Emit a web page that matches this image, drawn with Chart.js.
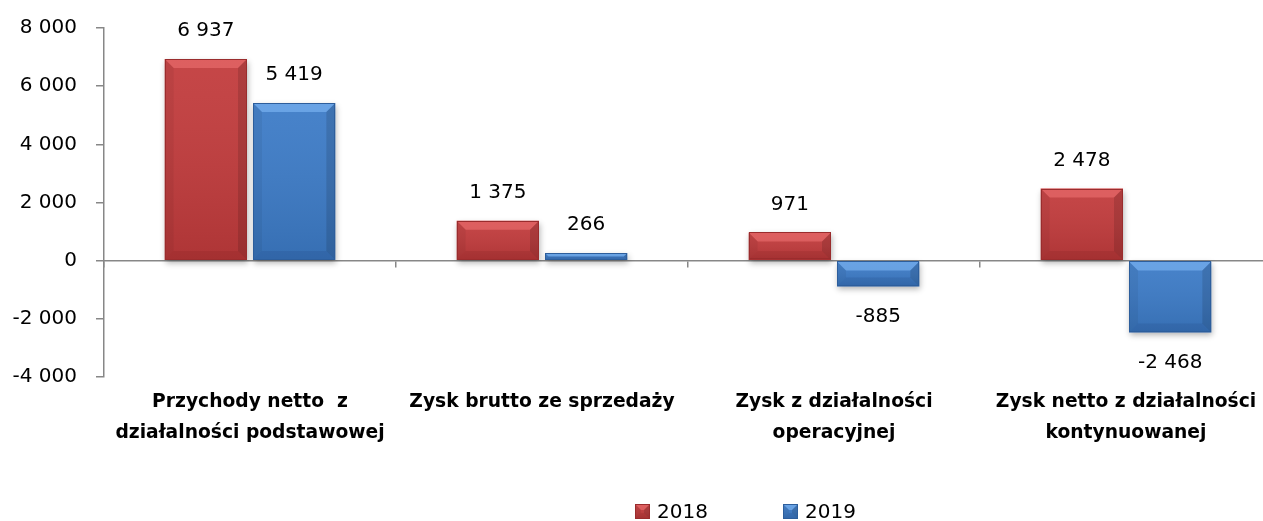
<!DOCTYPE html>
<html>
<head>
<meta charset="utf-8">
<script src="https://cdn.jsdelivr.net/npm/chart.js@4.4.1/dist/chart.umd.min.js"></script>
<style>
  html, body { margin: 0; padding: 0; background: #ffffff; overflow: hidden; }
  #wrap { width: 1263px; height: 521px; overflow: hidden; }
  canvas { display: block; }
</style>
</head>
<body>
<div id="wrap"><canvas id="c" width="1280" height="521"></canvas></div>
<script>
// ---- data ----
const categories = [
  ["Przychody netto  z", "działalności podstawowej"],
  ["Zysk brutto ze sprzedaży"],
  ["Zysk z działalności", "operacyjnej"],
  ["Zysk netto z działalności", "kontynuowanej"]
];
const seriesNames = ["2018", "2019"];
const values2018 = [6937, 1375, 971, 2478];
const values2019 = [5419, 266, -885, -2468];
const yMin = -4000;
const yMax = 8000;
const yStep = 2000;

// ---- styles ----
const FONT = "'DejaVu Sans', sans-serif";
const AXIS_COLOR = "#878787";
const colors = [
  { body: "#C23B3C", border: "#9A2C2D", light: "rgba(255,130,130,0.42)", dark: "rgba(80,10,10,0.10)" },
  { body: "#3C7BC7", border: "#2D5E9C", light: "rgba(140,195,255,0.50)", dark: "rgba(10,30,80,0.10)" }
];

function fmt(v) {
  const s = Math.abs(Math.round(v)).toString().replace(/\B(?=(\d{3})+(?!\d))/g, " ");
  return (v < 0 ? "-" : "") + s;
}

function drawBevelRect(ctx, l, t, r, b, col, bevel) {
  const h = b - t, w = r - l;
  const bv = Math.max(0, Math.min(bevel, h / 2, w / 2));
  const g = ctx.createLinearGradient(0, t, 0, b);
  g.addColorStop(0, "rgba(255,255,255,0.06)");
  g.addColorStop(1, "rgba(0,0,0,0.10)");
  ctx.fillStyle = g;
  ctx.fillRect(l, t, w, h);
  if (bv > 0.5) {
    ctx.fillStyle = col.light;
    ctx.beginPath();
    ctx.moveTo(l, t); ctx.lineTo(r, t); ctx.lineTo(r - bv, t + bv); ctx.lineTo(l + bv, t + bv); ctx.closePath();
    ctx.fill();
    ctx.fillStyle = col.dark;
    ctx.beginPath();
    ctx.moveTo(l, b); ctx.lineTo(r, b); ctx.lineTo(r - bv, b - bv); ctx.lineTo(l + bv, b - bv); ctx.closePath();
    ctx.fill();
    ctx.fillStyle = "rgba(0,0,0,0.05)";
    ctx.beginPath();
    ctx.moveTo(l, t); ctx.lineTo(l + bv, t + bv); ctx.lineTo(l + bv, b - bv); ctx.lineTo(l, b); ctx.closePath();
    ctx.fill();
    ctx.fillStyle = "rgba(0,0,0,0.12)";
    ctx.beginPath();
    ctx.moveTo(r, t); ctx.lineTo(r - bv, t + bv); ctx.lineTo(r - bv, b - bv); ctx.lineTo(r, b); ctx.closePath();
    ctx.fill();
  }
  ctx.strokeStyle = col.border;
  ctx.lineWidth = 1;
  ctx.strokeRect(Math.round(l) + 0.5, Math.round(t) + 0.5, Math.max(0, Math.round(w) - 1), Math.max(0, Math.round(h) - 1));
}

const barEffects = {
  id: "barEffects",
  beforeDatasetsDraw(chart) {
    const ctx = chart.ctx;
    ctx.save();
    ctx.shadowColor = "rgba(0,0,0,0.30)";
    ctx.shadowBlur = 6;
    ctx.shadowOffsetX = 1;
    ctx.shadowOffsetY = 3;
  },
  afterDatasetsDraw(chart) {
    const ctx = chart.ctx;
    ctx.restore();
    ctx.save();
    chart.data.datasets.forEach((ds, di) => {
      const meta = chart.getDatasetMeta(di);
      meta.data.forEach((el, i) => {
        const p = el.getProps(["x", "y", "base", "width"], true);
        const l = p.x - p.width / 2, r = p.x + p.width / 2;
        const t = Math.min(p.y, p.base), b = Math.max(p.y, p.base);
        drawBevelRect(ctx, l, t, r, b, colors[di], 9);
        const v = ds.data[i];
        ctx.fillStyle = "#000000";
        ctx.font = "20px " + FONT;
        ctx.textAlign = "center";
        ctx.textBaseline = "middle";
        const ly = v >= 0 ? t - 28 : b + 30;
        ctx.fillText(fmt(v), p.x, ly);
      });
    });
    ctx.restore();
  },
  afterDraw(chart) {
    const ctx = chart.ctx;
    ctx.save();
    const items = [
      { x: 635, label: seriesNames[0], col: colors[0] },
      { x: 783, label: seriesNames[1], col: colors[1] }
    ];
    items.forEach(it => {
      const s = 15, top = 504;
      ctx.fillStyle = it.col.body;
      ctx.fillRect(it.x, top, s, s);
      drawBevelRect(ctx, it.x, top, it.x + s, top + s, it.col, 6);
      ctx.fillStyle = "#000000";
      ctx.font = "20px " + FONT;
      ctx.textAlign = "left";
      ctx.textBaseline = "middle";
      ctx.fillText(it.label, it.x + s + 7, top + s / 2 + 1);
    });
    ctx.restore();
  }
};

const ctx = document.getElementById("c").getContext("2d");
new Chart(ctx, {
  type: "bar",
  data: {
    labels: categories,
    datasets: [
      { label: seriesNames[0], data: values2018, backgroundColor: colors[0].body, borderWidth: 0 },
      { label: seriesNames[1], data: values2019, backgroundColor: colors[1].body, borderWidth: 0 }
    ]
  },
  options: {
    responsive: false,
    animation: false,
    devicePixelRatio: 1,
    layout: { padding: { top: 28, bottom: 144, left: 0, right: 8 } },
    datasets: { bar: { categoryPercentage: 0.605, barPercentage: 0.932 } },
    plugins: {
      legend: { display: false },
      tooltip: { enabled: false },
      title: { display: false }
    },
    scales: {
      x: {
        position: { y: 0 },
        offset: true,
        afterFit(scale) { scale.paddingLeft = 0; scale.paddingRight = 0; scale.paddingTop = 0; scale.paddingBottom = 0; },
        grid: {
          offset: true,
          drawOnChartArea: false,
          drawTicks: true,
          tickLength: 6,
          color: AXIS_COLOR,
          lineWidth: 1.5
        },
        border: { display: true, color: AXIS_COLOR, width: 1.5 },
        ticks: {
          autoSkip: false,
          maxRotation: 0,
          minRotation: 0,
          padding: 120,
          color: "#000000",
          font: { family: FONT, size: 18.7, weight: "bold", lineHeight: "31px" }
        }
      },
      y: {
        min: yMin,
        max: yMax,
        afterFit(scale) { scale.width = 104; scale.paddingTop = 0; scale.paddingBottom = 0; },
        grid: {
          drawOnChartArea: false,
          drawTicks: true,
          tickLength: 8,
          color: AXIS_COLOR,
          lineWidth: 1.5
        },
        border: { display: true, color: AXIS_COLOR, width: 1.5 },
        ticks: {
          stepSize: yStep,
          padding: 19,
          color: "#000000",
          font: { family: FONT, size: 20 },
          callback: (v) => fmt(v)
        }
      }
    }
  },
  plugins: [barEffects]
});
</script>
</body>
</html>
